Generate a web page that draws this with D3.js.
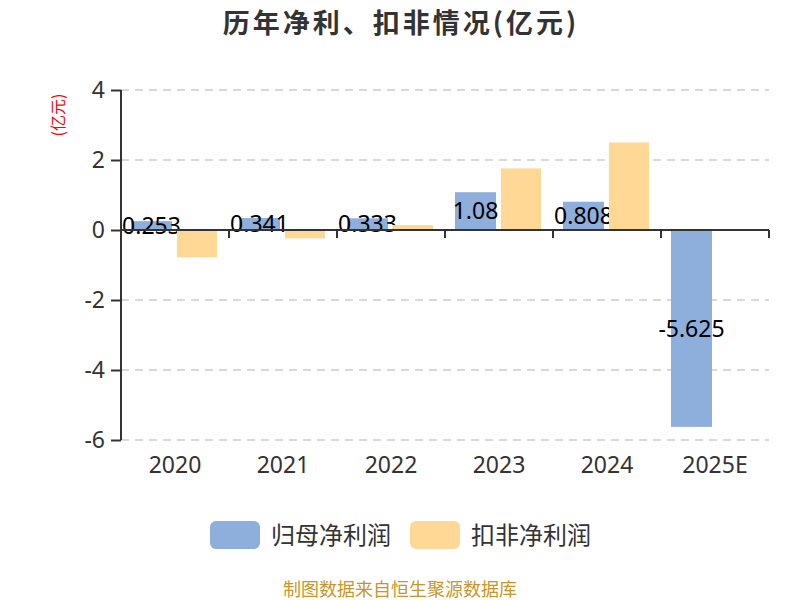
<!DOCTYPE html>
<html><head><meta charset="utf-8">
<script src="https://cdn.jsdelivr.net/npm/d3@7"></script>
<style>body{margin:0;background:#fff}svg{display:block}</style>
</head><body>
<svg id="c" width="800" height="600"></svg>
<script>
const categories = ["2020","2021","2022","2023","2024","2025E"];
const netProfit = [0.253, 0.341, 0.333, 1.08, 0.808, -5.625];
const deductedProfit = [-0.78, -0.24, 0.14, 1.76, 2.5, null];
const yTicks = [-6,-4,-2,0,2,4];
const seriesNames = ["归母净利润","扣非净利润"];
const colors = ["#8eaedb","#ffd895"];
const FONT = "'Noto Sans CJK SC','Noto Sans',sans-serif";
const NUMFONT = "'Noto Sans','Noto Sans CJK SC',sans-serif";

(function(){
const svg = d3.select("#c");
const pL=121, pR=769, pT=90, pB=440;
const x = d3.scaleBand().domain(categories).range([pL,pR]);
const y = d3.scaleLinear().domain([-6,4]).range([pB,pT]);
const bw = 41;
const fmt = d => String(d);

svg.append("text").attr("x",401).attr("y",33).attr("text-anchor","middle")
  .attr("font-family",FONT).attr("font-size",27).attr("font-weight","bold").attr("fill","#333")
  .attr("letter-spacing","3px")
  .text("历年净利、扣非情况(亿元)");

svg.append("text").attr("transform","translate(64,115) rotate(-90)").attr("text-anchor","middle")
  .attr("font-family",FONT).attr("font-size",16).attr("fill","#ff0000").text("(亿元)");

svg.append("g").selectAll("line").data(yTicks.filter(d=>d!==0)).join("line")
  .attr("x1",pL).attr("x2",pR).attr("y1",d=>y(d)).attr("y2",d=>y(d))
  .attr("stroke","#cccccc").attr("stroke-width",1.5).attr("stroke-dasharray","8,6");

const ya = svg.append("g").attr("transform",`translate(${pL},0)`)
  .call(d3.axisLeft(y).tickValues(yTicks).tickFormat(fmt).tickSize(10).tickPadding(6));
ya.selectAll("path,line").attr("stroke","#333").attr("stroke-width",2);
ya.select(".domain").attr("d",`M0,${pT}V${pB}`);
ya.selectAll("text").attr("font-family",NUMFONT).attr("font-size",23).attr("fill","#333");

svg.append("g").selectAll("rect").data(netProfit).join("rect")
  .attr("x",(d,i)=>x(categories[i])+10).attr("width",bw)
  .attr("y",d=>Math.min(y(d),y(0))).attr("height",d=>Math.abs(y(d)-y(0)))
  .attr("fill",colors[0]);

svg.append("g").selectAll("text").data(netProfit).join("text")
  .attr("x",(d,i)=>x(categories[i])+10+bw/2).attr("y",d=>(y(d)+y(0))/2)
  .attr("dy","0.36em").attr("text-anchor","middle")
  .attr("font-family",NUMFONT).attr("font-size",23).attr("fill","#000")
  .text(fmt);

svg.append("g").selectAll("rect").data(deductedProfit.map((v,i)=>({v,i})).filter(d=>d.v!==null)).join("rect")
  .attr("x",d=>x(categories[d.i])+56).attr("width",bw-1)
  .attr("y",d=>Math.min(y(d.v),y(0))).attr("height",d=>Math.abs(y(d.v)-y(0)))
  .attr("fill",colors[1]);

const xa = svg.append("g").attr("transform",`translate(0,${y(0)})`)
  .call(d3.axisBottom(x).tickSize(0).tickFormat(""));
xa.select(".domain").attr("stroke","#333").attr("stroke-width",2).attr("d",`M${pL},0H${pR}`);
svg.append("g").selectAll("line").data(categories).join("line")
  .attr("x1",d=>x(d)+x.bandwidth()).attr("x2",d=>x(d)+x.bandwidth())
  .attr("y1",y(0)).attr("y2",y(0)+8).attr("stroke","#333").attr("stroke-width",2);

svg.append("g").selectAll("text").data(categories).join("text")
  .attr("x",d=>x(d)+x.bandwidth()/2).attr("y",465).attr("dy","0.36em").attr("text-anchor","middle")
  .attr("font-family",NUMFONT).attr("font-size",23).attr("fill","#333").text(d=>d);

const lg = svg.append("g");
const lx = [210,410];
seriesNames.forEach((n,i)=>{
  lg.append("rect").attr("x",lx[i]).attr("y",521).attr("width",50).attr("height",28).attr("rx",6)
    .attr("fill",colors[i]);
  lg.append("text").attr("x",lx[i]+61).attr("y",535).attr("dy","0.36em")
    .attr("font-family",FONT).attr("font-size",24).attr("fill","#333").text(n);
});

svg.append("text").attr("x",400).attr("y",596).attr("text-anchor","middle")
  .attr("font-family",FONT).attr("font-size",18).attr("fill","#c8962a").text("制图数据来自恒生聚源数据库");
})();
</script>
</body></html>
